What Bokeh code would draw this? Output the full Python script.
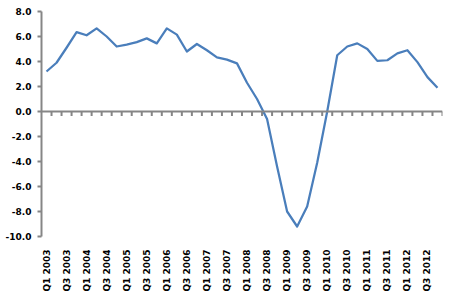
import math
import numpy as np
from bokeh.plotting import figure
from bokeh.models import Range1d, FixedTicker, Span, LinearAxis, NumeralTickFormatter
from bokeh.embed import file_html
from bokeh.resources import INLINE

# Quarter categories Q1 2003 .. Q4 2012
years = [2003, 2004, 2005, 2006, 2007, 2008, 2009, 2010, 2011, 2012]
quarters = [f"Q{q} {y}" for y in years for q in (1, 2, 3, 4)]

# Series values
values = [3.2, 3.9, 5.1, 6.35, 6.1, 6.65, 6.0, 5.2, 5.35, 5.55,
          5.85, 5.45, 6.65, 6.15, 4.8, 5.4, 4.9, 4.33, 4.15, 3.85,
          2.3, 1.0, -0.6, -4.4, -8.0, -9.2, -7.6, -4.1, 0.0, 4.5,
          5.2, 5.45, 5.0, 4.05, 4.1, 4.65, 4.9, 3.95, 2.75, 1.9]

y_ticks = [-10, -8, -6, -4, -2, 0, 2, 4, 6, 8]

n = len(quarters)
x = np.arange(n)

p = figure(width=450, height=294, output_backend="svg", toolbar_location=None,
           x_range=Range1d(-0.5, n - 0.5), y_range=Range1d(-10, 8),
           min_border_left=41, min_border_right=8, min_border_top=11,
           min_border_bottom=57, x_axis_location=None, y_axis_location=None)
p.outline_line_color = None
p.xgrid.visible = False
p.ygrid.visible = False

axis_color = "#868686"
font = "DejaVu Sans"

# y axis
ya = LinearAxis(ticker=FixedTicker(ticks=y_ticks),
                formatter=NumeralTickFormatter(format="0.0"))
ya.axis_line_color = axis_color
ya.axis_line_width = 2
ya.major_tick_line_color = axis_color
ya.major_tick_line_width = 2
ya.major_tick_out = 4
ya.major_tick_in = 0
ya.minor_tick_line_color = None
ya.major_label_standoff = 6
ya.major_label_text_font = font
ya.major_label_text_font_style = "bold"
ya.major_label_text_font_size = "9px"
ya.major_label_text_color = "black"
p.add_layout(ya, "left")

# x axis labels (bottom, low position), reading top-to-bottom
xa = LinearAxis(ticker=FixedTicker(ticks=list(x[::2])),
                major_label_overrides={int(i): quarters[i] for i in x[::2]})
xa.axis_line_color = None
xa.major_tick_line_color = None
xa.minor_tick_line_color = None
xa.major_tick_out = 0
xa.major_tick_in = 0
xa.major_label_standoff = 13
xa.major_label_orientation = math.pi / 2
xa.major_label_text_font = font
xa.major_label_text_font_style = "bold"
xa.major_label_text_font_size = "9px"
xa.major_label_text_color = "black"
p.add_layout(xa, "below")

# horizontal axis line crossing at zero with tick marks between categories
p.add_layout(Span(location=0, dimension="width", line_color=axis_color, line_width=2))
bounds = x + 0.5
p.segment(x0=bounds, y0=np.zeros(n), x1=bounds, y1=np.full(n, -0.35),
          line_color=axis_color, line_width=2)

# series line
p.line(x, values, line_color="#4A7EBB", line_width=2.25, line_join="round")

open("out.html", "w").write(file_html(p, INLINE))
